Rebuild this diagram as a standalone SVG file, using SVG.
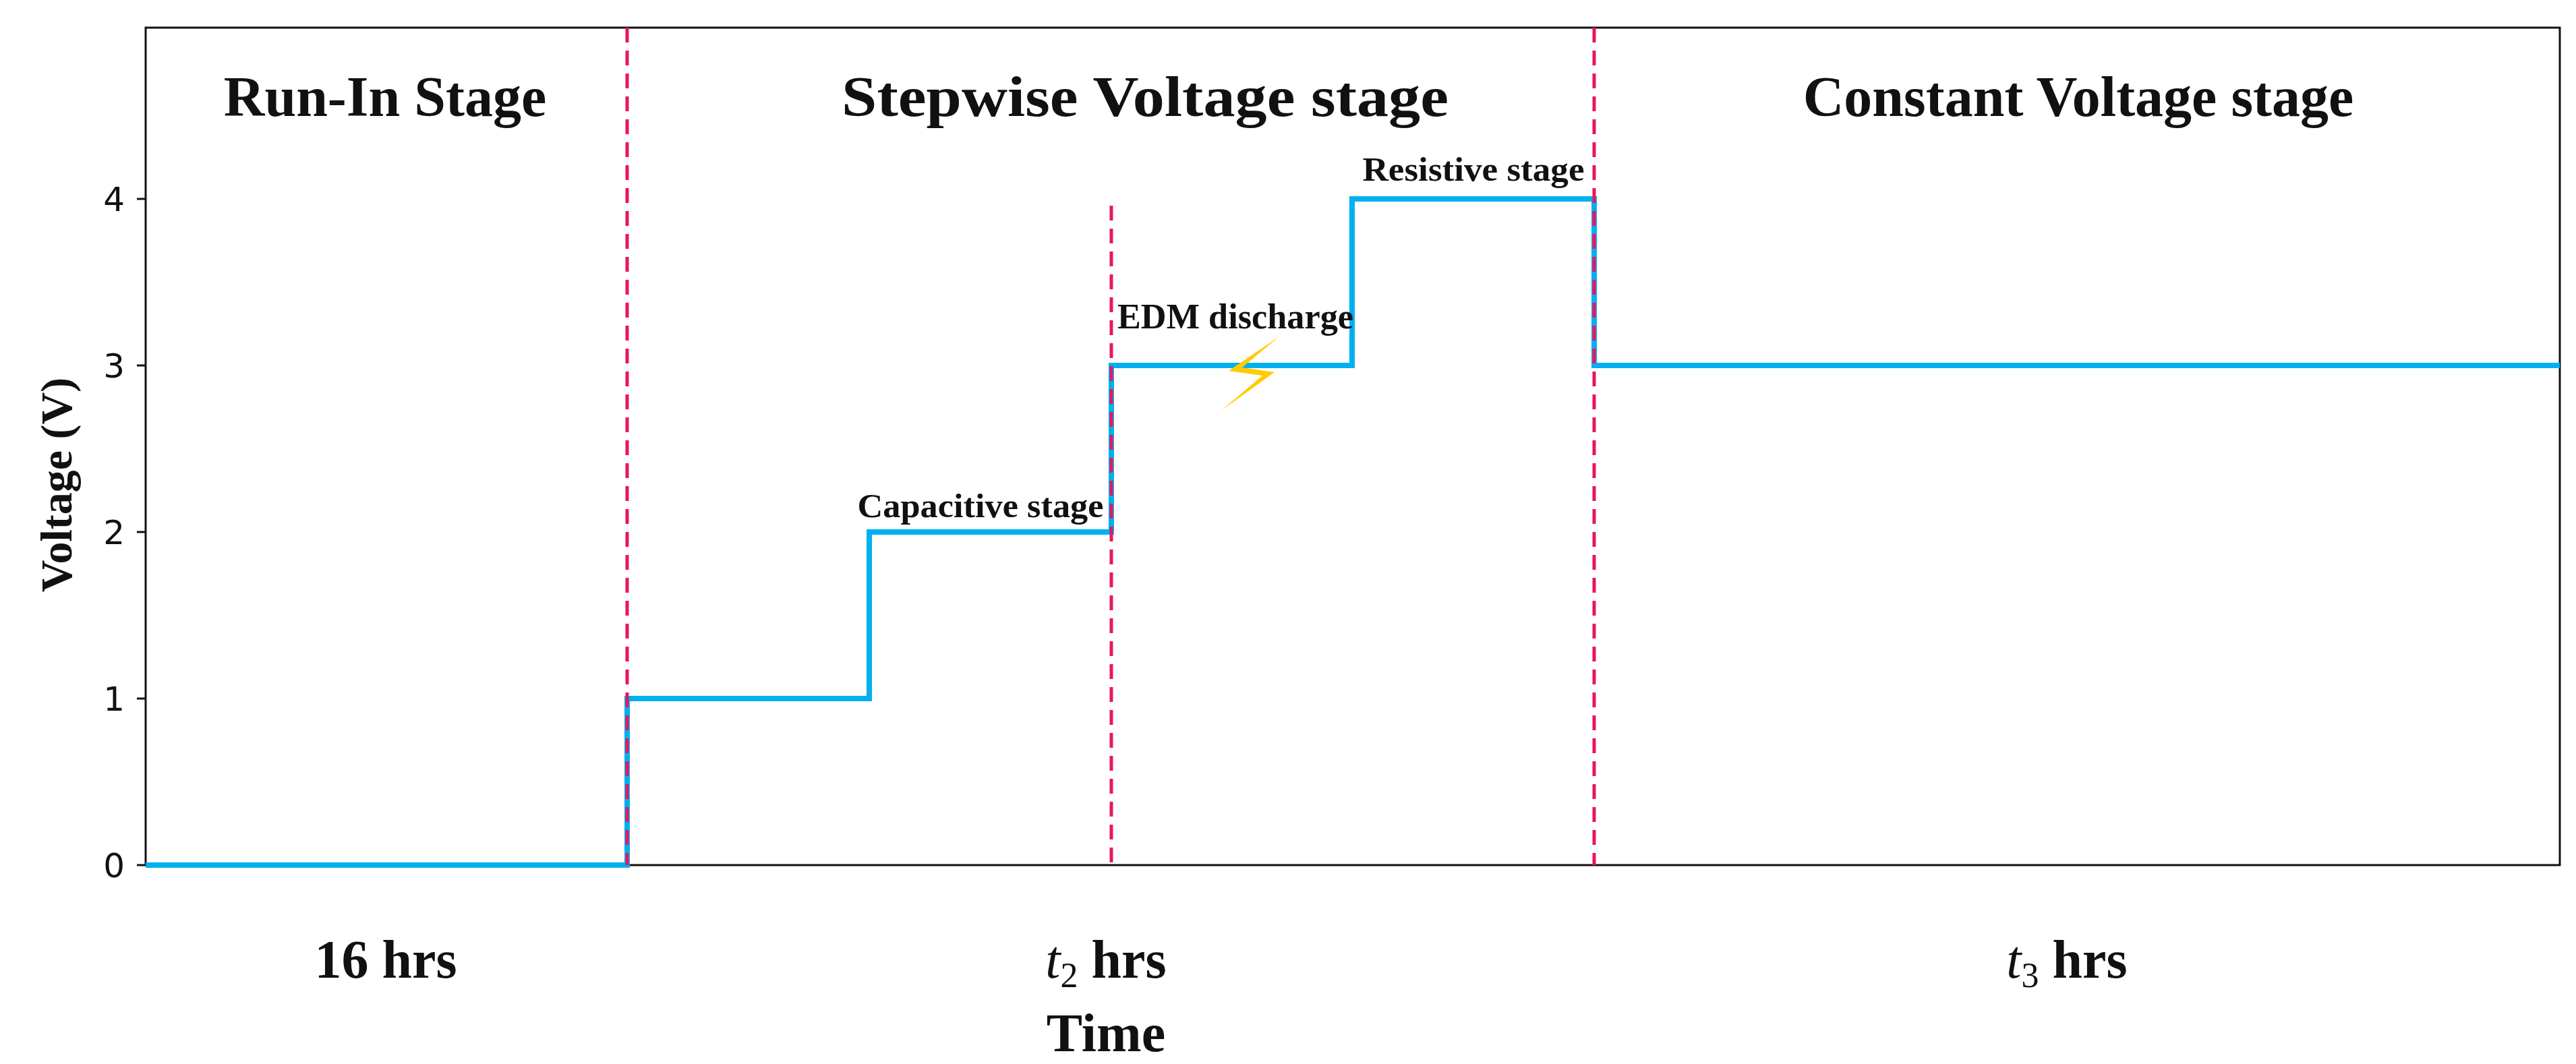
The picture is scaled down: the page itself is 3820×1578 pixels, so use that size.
<svg xmlns="http://www.w3.org/2000/svg" width="3820" height="1578" viewBox="0 0 3820 1578">
<style>
.h{font-family:"Liberation Serif",serif;font-weight:bold;fill:#111}
.tk{font-family:"DejaVu Sans",sans-serif;font-size:50px;fill:#111;text-anchor:end}
.d{stroke:#e8175d;stroke-width:5;stroke-dasharray:22 12;fill:none}
</style>
<rect width="3820" height="1578" fill="#fff"/>
<g id="axes" stroke="#111" stroke-width="3" fill="none">
<rect x="216" y="41" width="3580" height="1242"/>
<path d="M203 295H216M203 542H216M203 789H216M203 1036H216M203 1283H216"/>
</g>
<g id="ticks">
<text class="tk" x="185" y="313">4</text>
<text class="tk" x="185" y="560">3</text>
<text class="tk" x="185" y="807">2</text>
<text class="tk" x="185" y="1054">1</text>
<text class="tk" x="185" y="1301">0</text>
</g>
<g id="connectors">
<path id="voltage" d="M216 1283H930V1036H1289V789H1648V542H2005V295H2364V542H3796" fill="none" stroke="#00b0f0" stroke-width="8"/>
<path class="d" d="M930 41V1283"/>
<path class="d" d="M1648 305V1283"/>
<path class="d" d="M2364 41V1283"/>
</g>
<g id="lightning"><polygon points="1897,499 1822,550 1872,557 1811,609 1890,552 1842,545" fill="#ffcc00"/></g>
<g id="labels">
<text class="h" x="571" y="172" font-size="84" text-anchor="middle">Run-In Stage</text>
<text class="h" x="1698" y="172" font-size="84" text-anchor="middle" textLength="900" lengthAdjust="spacingAndGlyphs">Stepwise Voltage stage</text>
<text class="h" x="3082" y="172" font-size="84" text-anchor="middle">Constant Voltage stage</text>
<text class="h" x="1454" y="767" font-size="50" text-anchor="middle" textLength="365" lengthAdjust="spacingAndGlyphs">Capacitive stage</text>
<text class="h" x="1657" y="487" font-size="52" textLength="350" lengthAdjust="spacingAndGlyphs">EDM discharge</text>
<text class="h" x="2185" y="268" font-size="50" text-anchor="middle" textLength="329" lengthAdjust="spacingAndGlyphs">Resistive stage</text>
<text class="h" x="572" y="1450" font-size="80" text-anchor="middle">16 hrs</text>
<text class="h" x="1640" y="1450" font-size="80" text-anchor="middle"><tspan font-style="italic" font-weight="normal">t</tspan><tspan font-size="52" font-weight="normal" dy="14">2</tspan><tspan dy="-14"> hrs</tspan></text>
<text class="h" x="3065" y="1450" font-size="80" text-anchor="middle"><tspan font-style="italic" font-weight="normal">t</tspan><tspan font-size="52" font-weight="normal" dy="14">3</tspan><tspan dy="-14"> hrs</tspan></text>
<text class="h" x="1640" y="1559" font-size="80" text-anchor="middle">Time</text>
<text class="h" x="0" y="0" font-size="66" text-anchor="middle" transform="translate(106 719) rotate(-90)">Voltage (V)</text>
</g>
</svg>
